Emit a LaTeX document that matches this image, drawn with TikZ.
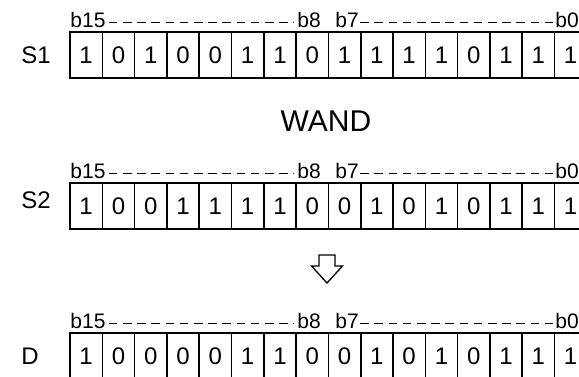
\documentclass[tikz,border=0pt]{standalone}
\usepackage{fontspec}
\setmainfont{Liberation Sans}
\begin{document}
\begin{tikzpicture}[x=0.5pt, y=-0.5pt,
    every node/.style={inner sep=0pt},
    celda/.style={draw, line width=0.8pt, minimum width=16.15pt, minimum height=23pt, font=\fontsize{12}{14}\selectfont},
    nombre/.style={font=\fontsize{12}{14}\selectfont, anchor=west},
    bit/.style={font=\fontsize{10.5}{12}\selectfont, anchor=base west},
    raya/.style={line width=0.6pt, dash pattern=on 4.3pt off 2.8pt}
  ]
  \useasboundingbox (0,0) rectangle (579,376);
  \clip (0,0) rectangle (579,376);
  % Tres registros de 16 bits: S1, S2 y el resultado D
  \foreach \f/\etq/\yy/\yl/\v in {
      s1/S1/32/55/{1,0,1,0,0,1,1,0,1,1,1,1,0,1,1,1},
      s2/S2/183/200/{1,0,0,1,1,1,1,0,0,1,0,1,0,1,1,1},
      d/D/333/356/{1,0,0,0,0,1,1,0,0,1,0,1,0,1,1,1}} {
    \node[nombre] (\f) at (21,\yl) {\etq};
    \foreach \b [count=\i from 0] in \v
      \node[celda] (\f c\i) at ({86.15+\i*32.3},{\yy+23}) {\b};
    % Etiquetas de bits sobre el registro
    \node[bit] (\f b15) at (70,\yy-5) {b15};
    \node[bit] (\f b8)  at (297,\yy-5) {b8};
    \node[bit] (\f b7)  at (335,\yy-5) {b7};
    \node[bit] (\f b0)  at (555,\yy-5) {b0};
    \draw[raya] ([xshift=1.5pt, yshift=2.3pt]\f b15.base east) -- ([xshift=-1.5pt, yshift=2.3pt]\f b8.base west);
    \draw[raya] ([xshift=0.5pt, yshift=2.3pt]\f b7.base east) -- ([xshift=-0.5pt, yshift=2.3pt]\f b0.base west);
  }
  \node[font=\fontsize{15}{18}\selectfont] (wand) at (326,121) {WAND};
  % Flecha hueca hacia el resultado
  \coordinate (flecha) at (327,255);
  \draw[line width=0.65pt] (flecha) ++(-8,0) -- ++(16,0) -- ++(0,11) -- ++(7.5,0) -- ++(-15.5,17) -- ++(-15.5,-17) -- ++(7.5,0) -- cycle;
\end{tikzpicture}
\end{document}
